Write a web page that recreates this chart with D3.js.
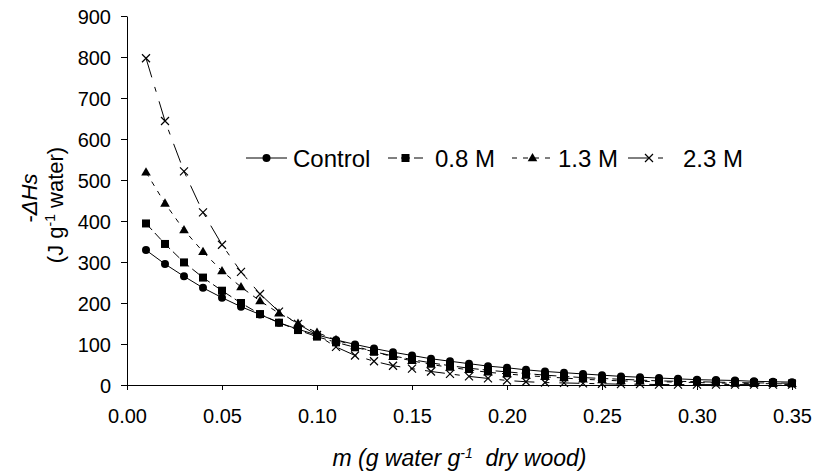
<!DOCTYPE html>
<html>
<head>
<meta charset="utf-8">
<script src="https://cdn.jsdelivr.net/npm/d3@7/dist/d3.min.js"></script>
<style>
  body { margin: 0; background: #fff; }
  text { font-family: Arial, "Liberation Sans", sans-serif; fill: #000; }
</style>
</head>
<body>
<div id="chart"></div>
<script>
// moisture content m (g water / g dry wood)
let moisture = [0.01, 0.02, 0.03, 0.04, 0.05, 0.06, 0.07, 0.08, 0.09, 0.10,
  0.11, 0.12, 0.13, 0.14, 0.15, 0.16, 0.17, 0.18, 0.19, 0.20,
  0.21, 0.22, 0.23, 0.24, 0.25, 0.26, 0.27, 0.28, 0.29, 0.30,
  0.31, 0.32, 0.33, 0.34, 0.35];

// -dHs values (J/g water)
let control = [329, 295, 265, 237, 213, 191, 172, 152, 136, 122,
  110, 99, 89, 80, 72, 64, 58, 52, 46, 42,
  37, 33, 30, 27, 24, 21, 19, 17, 15, 13,
  12, 11, 9, 8, 7];
let m08 = [394, 344, 299, 262, 230, 200, 173, 152, 134, 118,
  104, 92, 81, 71, 62, 54, 47, 41, 36, 32,
  28, 24, 21, 18, 16, 14, 12, 10, 9, 8,
  7, 6, 5, 5, 4];
let m13 = [519, 443, 378, 325, 278, 239, 205, 175, 150, 128,
  110, 95, 81, 69, 59, 50, 43, 37, 31, 27,
  23, 20, 17, 14, 12, 10, 9, 8, 7, 6,
  5, 4, 4, 3, 3];
let m23 = [797, 644, 521, 421, 342, 276, 222, 179, 149, 122,
  93, 72, 58, 47, 40, 33, 27, 21, 16, 11,
  8, 6, 5, 4, 3, 2, 2, 1, 1, 1,
  1, 1, 1, 1, 1];

let seriesNames = ["Control", "0.8 M", "1.3 M", "2.3 M"];
let xTicks = [0.00, 0.05, 0.10, 0.15, 0.20, 0.25, 0.30, 0.35];
let yTicks = [0, 100, 200, 300, 400, 500, 600, 700, 800, 900];

let series = [
  { name: seriesNames[0], values: control, symbol: "circle", dash: null },
  { name: seriesNames[1], values: m08, symbol: "square", dash: "9,4" },
  { name: seriesNames[2], values: m13, symbol: "triangle", dash: "5,6" },
  { name: seriesNames[3], values: m23, symbol: "cross", dash: "20,10,5,10" }
];

let margin = { top: 16, right: 22, bottom: 87, left: 127 },
  width = 814 - margin.left - margin.right,
  height = 472 - margin.top - margin.bottom;

let x = d3.scaleLinear().domain([0, 0.35]).range([0, width]);
let y = d3.scaleLinear().domain([0, 900]).range([height, 0]);

let root = d3
  .select("#chart")
  .append("svg")
  .attr("width", 814)
  .attr("height", 472);

let svg = root
  .append("g")
  .attr("transform", "translate(" + margin.left + "," + margin.top + ")");

function drawSymbol(g, type, cx, cy) {
  if (type === "circle") {
    g.append("circle").attr("cx", cx).attr("cy", cy).attr("r", 4).attr("fill", "#000");
  } else if (type === "square") {
    g.append("rect").attr("x", cx - 4).attr("y", cy - 4).attr("width", 8).attr("height", 8).attr("fill", "#000");
  } else if (type === "triangle") {
    g.append("path")
      .attr("d", d3.symbol().type(d3.symbolTriangle).size(40)())
      .attr("transform", "translate(" + cx + "," + (cy + 0.5) + ")")
      .attr("fill", "#000");
  } else {
    g.append("path")
      .attr("d", "M-4,-4L4,4M-4,4L4,-4")
      .attr("transform", "translate(" + cx + "," + cy + ")")
      .attr("stroke", "#000")
      .attr("stroke-width", 1.2)
      .attr("fill", "none");
  }
}

// Lines and markers
let line = d3
  .line()
  .x(function(d, i) {
    return x(moisture[i]);
  })
  .y(function(d) {
    return y(d);
  });

series.forEach(function(s) {
  svg
    .append("path")
    .datum(s.values)
    .attr("fill", "none")
    .attr("stroke", "#000")
    .attr("stroke-width", 1)
    .attr("stroke-dasharray", s.dash)
    .attr("d", line);
});

series.forEach(function(s) {
  let g = svg.append("g");
  s.values.forEach(function(v, i) {
    drawSymbol(g, s.symbol, x(moisture[i]), y(v));
  });
});

// Axes
let xAxis = d3
  .axisBottom(x)
  .tickValues(xTicks)
  .tickSize(5)
  .tickSizeOuter(0)
  .tickFormat(d3.format(".2f"));
let yAxis = d3.axisLeft(y).tickValues(yTicks).tickSize(6).tickSizeOuter(0);

let gx = svg
  .append("g")
  .attr("transform", "translate(0," + height + ")")
  .call(xAxis);
gx.selectAll("text").attr("font-size", 20).attr("y", 24).attr("dy", "0.71em");

let gy = svg.append("g").call(yAxis);
gy.selectAll("text").attr("font-size", 20).attr("x", -16).attr("dy", "0.36em");

svg.selectAll(".domain, .tick line").attr("stroke", "#000");
svg.selectAll(".tick text").attr("font-family", "Arial, 'Liberation Sans', sans-serif").attr("fill", "#000");

// X axis label
let xl = root
  .append("text")
  .attr("x", margin.left + width / 2)
  .attr("y", 466)
  .attr("text-anchor", "middle")
  .attr("font-size", 23)
  .attr("font-style", "italic");
xl.append("tspan").text("m (g water g");
xl.append("tspan").attr("dy", -8).attr("font-size", 14).text("-1");
xl.append("tspan").attr("dy", 8).text("\u00a0 dry wood)");

// Y axis label
let yl = root
  .append("text")
  .attr("transform", "translate(37,198) rotate(-90)")
  .attr("text-anchor", "middle")
  .attr("font-size", 22);
yl.append("tspan").text("-");
yl.append("tspan").attr("font-style", "italic").text("ΔHs");

let yl2 = root
  .append("text")
  .attr("transform", "translate(63,205) rotate(-90)")
  .attr("text-anchor", "middle")
  .attr("font-size", 22);
yl2.append("tspan").text("(J g");
yl2.append("tspan").attr("dy", -8).attr("font-size", 14).text("-1");
yl2.append("tspan").attr("dy", 8).text(" water)");

// Legend (line start, line end, text start)
let legendLine = [[246, 287], [388, 423], [512, 553], [628, 670]];
let legendText = [293, 435, 558, 683];
let legend = root.append("g").attr("transform", "translate(0,158)");
series.forEach(function(s, i) {
  let x1 = legendLine[i][0], x2 = legendLine[i][1];
  legend.append("line")
    .attr("x1", x1)
    .attr("x2", x2)
    .attr("y1", 0)
    .attr("y2", 0)
    .attr("stroke", "#000")
    .attr("stroke-width", 1)
    .attr("stroke-dasharray", s.dash);
  drawSymbol(legend, s.symbol, (x1 + x2) / 2, 0);
  legend.append("text")
    .attr("x", legendText[i])
    .attr("y", 0)
    .attr("dy", "0.36em")
    .attr("font-size", 24)
    .text(s.name);
});
</script>
</body>
</html>
